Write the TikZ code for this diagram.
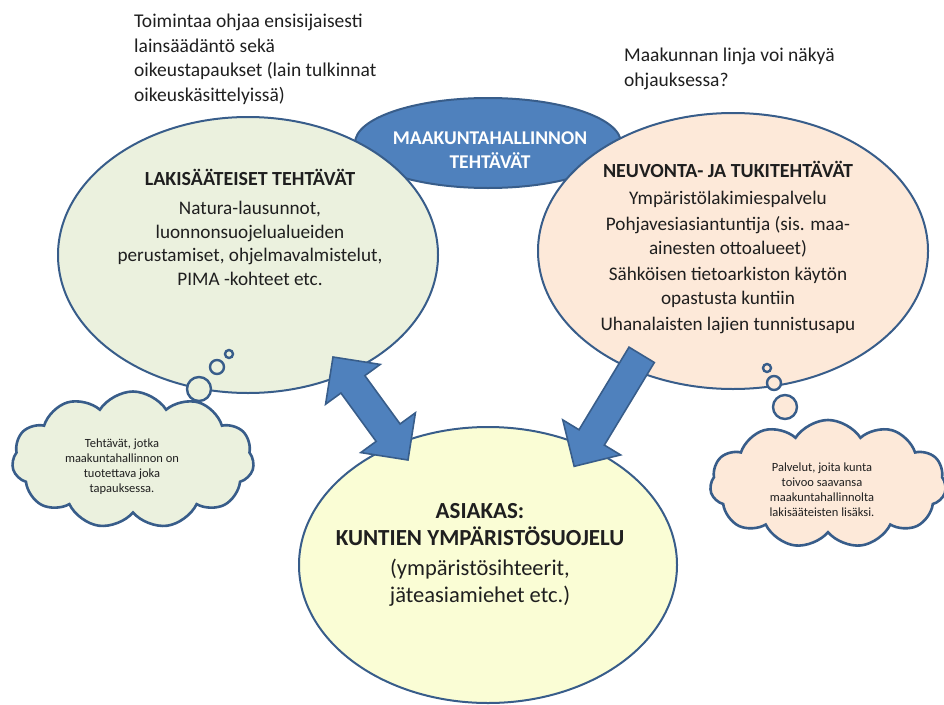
\documentclass[tikz,border=0pt]{standalone}
\usepackage{fontspec}
\setmainfont{Carlito}
\usetikzlibrary{shapes.geometric,shapes.symbols,shapes.arrows,calc}

\definecolor{lineblue}{HTML}{385D8A}
\definecolor{boxblue}{HTML}{4F81BD}
\definecolor{lakfill}{HTML}{EBF1DE}
\definecolor{neufill}{HTML}{FDE9D9}
\definecolor{asifill}{HTML}{FAFDD5}
\definecolor{inktext}{HTML}{1F1F1F}

\newcommand{\headfont}{\bfseries\fontsize{20}{23.5}\selectfont}
\newcommand{\clientfont}{\bfseries\fontsize{23}{26}\selectfont}

\tikzset{
  oval/.style={ellipse, draw=lineblue, line width=2pt, inner sep=0pt},
  puff/.style={cloud, cloud puffs=11, cloud puff arc=115, draw=lineblue, line width=2.6pt, inner sep=0pt},
  bubble/.style={circle, draw=lineblue, line width=2.4pt, inner sep=0pt},
  blockarrow/.style={draw=lineblue, fill=boxblue, line width=1.6pt, inner xsep=0pt, inner ysep=14pt},
  body/.style={align=center, text=inktext, inner sep=0pt, font=\fontsize{19.2}{23.5}\selectfont},
  note/.style={align=center, text=inktext, inner sep=0pt, font=\fontsize{12.5}{15}\selectfont},
  aside/.style={align=left, text=inktext, inner sep=0pt, anchor=north west, font=\fontsize{19.5}{24.5}\selectfont},
}

\begin{document}
\begin{tikzpicture}[x=1pt, y=-1pt]
\useasboundingbox (0,0) rectangle (944,704);

% ellipses
\node[oval, fill=boxblue, minimum width=266pt, minimum height=90pt] (tasks) at (488,143) {};
\node[oval, fill=lakfill, minimum width=380pt, minimum height=276pt] (lak) at (248,255) {};
\node[oval, fill=neufill, minimum width=390pt, minimum height=276pt] (neu) at (733,251) {};
\node[oval, fill=asifill, minimum width=378pt, minimum height=276pt] (asi) at (488,565) {};

% clouds
\node[puff, fill=lakfill, minimum width=242pt, minimum height=137pt] (lakcloud) at (133,460) {};
\node[puff, fill=neufill, minimum width=236pt, minimum height=128pt] (neucloud) at (828,484) {};

% thought bubbles
\node[bubble, fill=lakfill, minimum size=24pt] (lb1) at (199,389) {};
\node[bubble, fill=lakfill, minimum size=14pt] (lb2) at (217,367) {};
\node[bubble, fill=lakfill, minimum size=8pt] (lb3) at (229,354) {};
\node[bubble, fill=neufill, minimum size=8pt] (rb3) at (767,368) {};
\node[bubble, fill=neufill, minimum size=14pt] (rb2) at (774,383) {};
\node[bubble, fill=neufill, minimum size=24pt] (rb1) at (785,407) {};

% block arrows
\coordinate (lakTip) at (333,357);
\coordinate (asiTipL) at (408,460);
\coordinate (neuTail) at (645.5,348.5);
\coordinate (asiTipR) at (578,460);
\path let \p1=($(asiTipL)-(lakTip)$) in
  node[blockarrow, double arrow, double arrow head extend=19pt,
       minimum height={veclen(\x1,\y1)}, rotate={atan2(\y1,\x1)}]
  (lakarrow) at ($(lakTip)!0.5!(asiTipL)$) {};
\path let \p1=($(asiTipR)-(neuTail)$) in
  node[blockarrow, single arrow, single arrow head extend=19pt,
       minimum height={veclen(\x1,\y1)}, rotate={atan2(\y1,\x1)}]
  (neuarrow) at ($(neuTail)!0.5!(asiTipR)$) {};

% texts
\node[aside] (law) at (134,14) {Toimintaa ohjaa ensisijaisesti\\lainsäädäntö sekä\\oikeustapaukset (lain tulkinnat\\oikeuskäsittelyissä)};
\node[aside] (line) at (624,48) {Maakunnan linja voi näkyä\\ohjauksessa?};

\node[body, text=white, font=\bfseries\fontsize{19.5}{24}\selectfont] (taskstext) at (490,150) {MAAKUNTAHALLINNON\\TEHTÄVÄT};
\node[body] (laktext) at (250,227) {{\headfont LAKISÄÄTEISET TEHTÄVÄT}\\[6pt]
  Natura-lausunnot,\\luonnonsuojelualueiden\\perustamiset, ohjelmavalmistelut,\\PIMA -kohteet etc.};
\node[body] (neutext) at (728,248) {{\headfont NEUVONTA- JA TUKITEHTÄVÄT}\\[3pt]
  Ympäristölakimiespalvelu\\[3pt]
  Pohjavesiasiantuntija (sis. maa-\\ainesten ottoalueet)\\[3pt]
  Sähköisen tietoarkiston käytön\\opastusta kuntiin\\[3pt]
  Uhanalaisten lajien tunnistusapu};
\node[body, font=\fontsize{22.5}{27}\selectfont] (asitext) at (480,555) {{\clientfont ASIAKAS:}\\{\clientfont KUNTIEN YMPÄRISTÖSUOJELU}\\[3pt]
  (ympäristösihteerit,\\jäteasiamiehet etc.)};

\node[note] (lakcloudtext) at (122,467) {Tehtävät, jotka\\maakuntahallinnon on\\tuotettava joka\\tapauksessa.};
\node[note] (neucloudtext) at (822,490) {Palvelut, joita kunta\\toivoo saavansa\\maakuntahallinnolta\\lakisääteisten lisäksi.};
\end{tikzpicture}
\end{document}
